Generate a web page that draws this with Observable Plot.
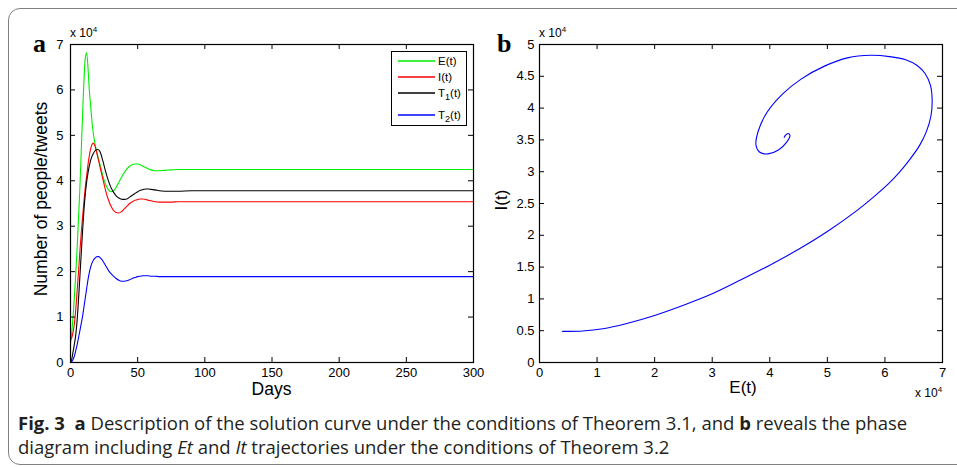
<!DOCTYPE html>
<html>
<head>
<meta charset="utf-8">
<script src="https://cdn.jsdelivr.net/npm/d3@7"></script>
<script src="https://cdn.jsdelivr.net/npm/@observablehq/plot@0.6"></script>
<style>
  html, body { margin: 0; padding: 0; background: #fff; }
  #fig { position: relative; width: 957px; height: 467px; overflow: hidden; font-family: "Liberation Sans", Arial, sans-serif; color: #000; }
  #frame { position: absolute; left: 8px; top: 8px; width: 1000px; height: 457px; border: 1.5px solid #808080; border-radius: 12px; box-sizing: border-box; z-index: 5; pointer-events: none; }
  .panel { position: absolute; top: 0; }
  .ov { position: absolute; white-space: nowrap; z-index: 6; }
  .exp { font-size: 12px; line-height: 14px; }
  .exp sup { font-size: 8px; vertical-align: 5px; line-height: 0; }
  .letter { font-family: "Liberation Serif", "Times New Roman", serif; font-weight: bold; font-size: 26px; line-height: 26px; }
  .atitle { font-size: 17.5px; line-height: 20px; transform: translate(-50%, 0); }
  .ytitle { font-size: 17.5px; line-height: 20px; transform: translate(-50%, -50%) rotate(-90deg); }
  #legend { position: absolute; left: 391px; top: 51px; width: 76px; height: 75px; border: 1.3px solid #000; box-sizing: border-box; background: #fff; z-index: 6; font-size: 11.5px; }
  #legend .row { position: absolute; left: 0; height: 14px; width: 72px; }
  #legend svg.sw { position: absolute; left: 6px; top: 0; width: 38px; height: 14px; overflow: visible; }
  #legend .lb { position: absolute; left: 46px; top: 0; line-height: 14px; }
  #legend sub { font-size: 9px; vertical-align: -3px; line-height: 0; }
  #caption { position: absolute; left: 18px; top: 411px; font-family: "Open Sans", Lato, sans-serif; font-size: 18.5px; line-height: 24px; color: #231f20; white-space: nowrap; z-index: 6; }
</style>
</head>
<body>
<div id="fig">
  <div id="frame"></div>
  <div class="ov letter" style="left:33px; top:31px;">a</div>
  <div class="ov letter" style="left:497px; top:31px;">b</div>
  <div class="ov exp" style="left:70px; top:26px;">x 10<sup>4</sup></div>
  <div class="ov exp" style="left:539px; top:26px;">x 10<sup>4</sup></div>
  <div class="ov exp" style="left:915px; top:386px;">x 10<sup>4</sup></div>
  <div class="ov atitle" style="left:271.5px; top:379px;">Days</div>
  <div class="ov atitle" style="left:743px; top:378px; font-size:17px;">E(t)</div>
  <div class="ov ytitle" style="left:41px; top:198.5px;">Number of people/tweets</div>
  <div class="ov ytitle" style="left:502px; top:200px; font-size:17px;">I(t)</div>
  <div id="legend"></div>
  <div id="caption"><b>Fig. 3</b>&nbsp; <b>a</b> Description of the solution curve under the conditions of Theorem 3.1, and <b>b</b> reveals the phase<br>diagram including <i>Et</i> and <i>It</i> trajectories under the conditions of Theorem 3.2</div>
</div>
<script>
// ---------- Data (values in units of 10^4) ----------
const days = [0,1,2,3,4,5,6,7,8,9,10,11,12,13,14,15,16,17,18,19,20,21,22,
  24,26,28,30,32,34,36,38,40,42,44,46,48,50,52,54,56,58,60,
  63,66,70,75,80,90,100,150,200,250,300];

const E_t = [0.41,0.68,1.05,1.5,2.0,2.55,3.2,3.85,4.65,5.45,6.2,6.7,6.82,6.5,6.0,5.65,5.3,5.04,4.85,4.7,4.58,4.47,4.36,
  4.12,3.93,3.81,3.76,3.78,3.86,3.97,4.08,4.18,4.26,4.32,4.36,4.37,4.37,4.35,4.32,4.29,4.26,4.24,
  4.22,4.22,4.23,4.24,4.25,4.25,4.25,4.25,4.25,4.25,4.25];

const I_t = [0.5,0.55,0.68,0.88,1.2,1.6,2.0,2.45,2.85,3.2,3.55,3.85,4.1,4.35,4.55,4.7,4.8,4.83,4.78,4.68,4.56,4.43,4.3,
  4.05,3.8,3.6,3.45,3.35,3.3,3.29,3.32,3.38,3.44,3.5,3.54,3.57,3.59,3.6,3.6,3.59,3.57,3.56,
  3.54,3.53,3.53,3.53,3.54,3.54,3.54,3.54,3.54,3.54,3.54];

const T1_t = [0,0.08,0.25,0.42,0.63,0.95,1.4,1.9,2.4,2.9,3.35,3.7,3.97,4.17,4.33,4.45,4.54,4.6,4.65,4.68,4.69,4.68,4.64,
  4.45,4.22,4.02,3.86,3.75,3.67,3.62,3.595,3.59,3.6,3.64,3.68,3.72,3.76,3.79,3.81,3.82,3.82,3.81,
  3.8,3.78,3.77,3.77,3.77,3.78,3.78,3.78,3.78,3.78,3.78];

const T2_t = [0,0.02,0.07,0.15,0.27,0.4,0.55,0.7,0.86,1.02,1.22,1.42,1.62,1.82,1.98,2.1,2.19,2.25,2.29,2.32,2.33,2.33,2.31,
  2.24,2.14,2.04,1.96,1.9,1.85,1.81,1.79,1.79,1.8,1.82,1.85,1.87,1.89,1.9,1.91,1.91,1.91,1.9,
  1.9,1.89,1.89,1.89,1.89,1.89,1.89,1.89,1.89,1.89,1.89];

const seriesNames = ["E(t)", "I(t)", "T1(t)", "T2(t)"];
const seriesColors = ["#00ee00", "#ff0000", "#000000", "#0000ff"];

// Phase diagram (E, I) trajectory, units of 10^4
const phaseE = [0.40,0.75,1.1,1.5,2.0,2.5,3.0,3.5,4.0,4.5,5.0,5.5,5.8,6.05,6.25,6.43,6.6,6.72,6.8,6.82,6.79,6.70,6.56,6.36,6.08,5.75,5.35,4.95,4.55,4.22,3.95,3.8,3.76,3.82,3.97,4.15,4.29,4.35,4.32,4.27,4.25];
const phaseI = [0.49,0.495,0.53,0.61,0.74,0.90,1.08,1.30,1.53,1.78,2.06,2.38,2.60,2.80,2.99,3.19,3.41,3.63,3.88,4.13,4.36,4.54,4.67,4.76,4.81,4.83,4.79,4.66,4.46,4.22,3.93,3.64,3.42,3.31,3.28,3.34,3.46,3.57,3.60,3.57,3.54];

// Ticks
const xTicksA = [0,50,100,150,200,250,300];
const yTicksA = [0,1,2,3,4,5,6,7];
const xTicksB = [0,1,2,3,4,5,6,7];
const yTicksB = [0,0.5,1,1.5,2,2.5,3,3.5,4,4.5,5];

// ---------- Build ----------
const fig = document.getElementById("fig");
const font = "'Liberation Sans', Arial, sans-serif";
const tickLen = 5;

const seriesArrays = [E_t, I_t, T1_t, T2_t];
const table = [];
seriesArrays.forEach((arr, k) => arr.forEach((v, i) => table.push({day: days[i], v, s: seriesNames[k]})));

function boxTicks(xt, yt, w, h, m) {
  const ph = h - m.top - m.bottom, pw = w - m.left - m.right;
  return [
    Plot.tickX(xt, {x: d => d, insetBottom: ph - tickLen, stroke: "black"}),
    Plot.tickX(xt, {x: d => d, insetTop: ph - tickLen, stroke: "black"}),
    Plot.tickY(yt, {y: d => d, insetRight: pw - tickLen, stroke: "black"}),
    Plot.tickY(yt, {y: d => d, insetLeft: pw - tickLen, stroke: "black"})
  ];
}

// Panel a
const mA = {top: 44, right: 7, bottom: 38, left: 70};
const WA = 480, HA = 400;
const plotA = Plot.plot({
  width: WA, height: HA,
  marginTop: mA.top, marginRight: mA.right, marginBottom: mA.bottom, marginLeft: mA.left,
  style: {fontFamily: font, fontSize: "13px", background: "transparent", color: "black", overflow: "visible"},
  x: {domain: [0, 300], ticks: xTicksA, tickSize: 0, tickPadding: 5, label: null, tickFormat: d => String(d)},
  y: {domain: [0, 7], ticks: yTicksA, tickSize: 0, tickPadding: 7, label: null, tickFormat: d => String(d)},
  color: {domain: seriesNames, range: seriesColors},
  marks: [
    Plot.line(table, {x: "day", y: "v", stroke: "s", z: "s", curve: "monotone-x", strokeWidth: 1.1}),
    ...boxTicks(xTicksA, yTicksA, WA, HA, mA),
    Plot.frame({stroke: "black", strokeWidth: 1.2})
  ]
});
plotA.classList.add("panel");
plotA.style.left = "0px";
fig.appendChild(plotA);

// Panel b
const mB = {top: 44, right: 15, bottom: 38, left: 69};
const WB = 487, HB = 400;
const phase = phaseE.map((e, i) => ({E: e, I: phaseI[i]}));
const plotB = Plot.plot({
  width: WB, height: HB,
  marginTop: mB.top, marginRight: mB.right, marginBottom: mB.bottom, marginLeft: mB.left,
  style: {fontFamily: font, fontSize: "13px", background: "transparent", color: "black", overflow: "visible"},
  x: {domain: [0, 7], ticks: xTicksB, tickSize: 0, tickPadding: 5, label: null, tickFormat: d => String(d)},
  y: {domain: [0, 5], ticks: yTicksB, tickSize: 0, tickPadding: 5, label: null, tickFormat: d => String(d)},
  marks: [
    Plot.line(phase, {x: "E", y: "I", stroke: "#0000ff", curve: "catmull-rom", strokeWidth: 1.1}),
    ...boxTicks(xTicksB, yTicksB, WB, HB, mB),
    Plot.frame({stroke: "black", strokeWidth: 1.2})
  ]
});
plotB.classList.add("panel");
plotB.style.left = "470px";
fig.appendChild(plotB);

// Legend (HTML + inline SVG swatches)
const legend = document.getElementById("legend");
const rowTops = [2, 18, 34, 56];
const labelsHTML = ["E(t)", "I(t)", "T<sub>1</sub>(t)", "T<sub>2</sub>(t)"];
const SVGNS = "http://www.w3.org/2000/svg";
seriesNames.forEach((n, i) => {
  const row = document.createElement("div");
  row.className = "row";
  row.style.top = rowTops[i] + "px";
  const sw = document.createElementNS(SVGNS, "svg");
  sw.setAttribute("class", "sw");
  sw.setAttribute("width", "38");
  sw.setAttribute("height", "14");
  const ln = document.createElementNS(SVGNS, "line");
  ln.setAttribute("x1", "0"); ln.setAttribute("x2", "37");
  ln.setAttribute("y1", "7"); ln.setAttribute("y2", "7");
  ln.setAttribute("stroke", seriesColors[i]);
  ln.setAttribute("stroke-width", "1.3");
  sw.appendChild(ln);
  const lb = document.createElement("div");
  lb.className = "lb";
  lb.innerHTML = labelsHTML[i];
  row.appendChild(sw);
  row.appendChild(lb);
  legend.appendChild(row);
});
</script>
</body>
</html>
